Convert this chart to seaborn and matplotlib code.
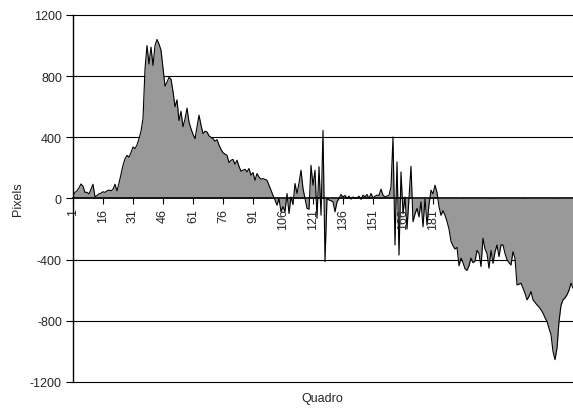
import numpy as np
import pandas as pd
import matplotlib
matplotlib.use("Agg")
import matplotlib.pyplot as plt
import seaborn as sns

# pixel difference per frame
pixels = [
    20, 40, 50, 70, 95, 80, 40, 40, 30, 60,
    93, 10, 20, 30, 35, 44, 40, 50, 55, 50,
    60, 93, 50, 100, 160, 217, 260, 282, 270, 300,
    337, 326, 350, 391, 440, 522, 848, 1000, 880, 990,
    870, 1000, 1040, 1010, 970, 850, 735, 760, 793, 780,
    700, 600, 645, 510, 570, 469, 520, 591, 500, 456,
    420, 391, 470, 545, 480, 424, 440, 435, 410, 400,
    391, 374, 385, 350, 320, 300, 290, 282, 235, 250,
    256, 224, 250, 210, 178, 185, 191, 174, 196, 152,
    170, 119, 163, 140, 126, 130, 125, 119, 87, 54,
    20, -10, -44, 0, -87, -54, -87, 33, -98, 10,
    -40, 98, 33, 100, 185, 65, 0, -65, -70, 217,
    87, 185, -130, 208, -109, 445, -413, 0, -10, -15,
    -22, -87, -22, 0, 26, 10, 20, 0, 15, -4,
    10, 0, 4, 15, -6, 22, 10, 26, 0, 33,
    4, 15, 22, 20, 61, 22, 10, 15, 22, 76,
    402, -304, 239, -370, 174, -100, 10, -200, 0, 210,
    -152, -100, -65, -120, -22, -185, 0, -174, -40, 54,
    30, 87, 40, -54, -110, -80, -110, -150, -200, -280,
    -310, -330, -320, -440, -390, -420, -460, -470, -440, -390,
    -420, -410, -340, -360, -445, -260, -330, -360, -456, -340,
    -424, -350, -304, -380, -304, -304, -360, -400, -420, -435,
    -348, -391, -565, -560, -554, -587, -620, -663, -640, -609,
    -663, -680, -696, -710, -728, -750, -780, -804, -850, -891,
    -1000, -1054, -978, -804, -700, -663, -650, -630, -600, -554,
    -587,
]
quadro = list(range(1, len(pixels) + 1))
x_ticks = [1, 16, 31, 46, 61, 76, 91, 106, 121, 136, 151, 166, 181, 196, 211, 226, 241]
y_ticks = [-1200, -800, -400, 0, 400, 800, 1200]

df = pd.DataFrame({"Quadro": quadro, "Pixels": pixels})

sns.set_style("white")
plt.rcParams["font.family"] = ["Liberation Sans", "DejaVu Sans"]

fig = plt.figure(figsize=(5.73, 4.10), dpi=100)
ax = fig.add_axes([0.1274, 0.0659, 0.8726, 0.8951])

# grid lines (Excel style, black)
for yv in y_ticks:
    if yv != 0:
        ax.axhline(yv, color="black", linewidth=0.8, zorder=1, clip_on=False)

ax.fill_between(df["Quadro"], df["Pixels"], 0, color="#999999", linewidth=0, zorder=2)
sns.lineplot(data=df, x="Quadro", y="Pixels", color="black", linewidth=0.8, ax=ax, zorder=3)

# category axis sits on the zero line (set before ticks, it resets them)
for s in ["top", "right"]:
    ax.spines[s].set_visible(False)
ax.spines["bottom"].set_position(("data", 0))
ax.spines["bottom"].set_linewidth(1.2)
ax.spines["bottom"].set_color("black")
ax.spines["bottom"].set_zorder(4)
ax.spines["left"].set_color("black")
ax.spines["left"].set_linewidth(1.0)

ax.set_xlim(1, len(pixels))
ax.set_ylim(-1200, 1200)
ax.set_yticks(y_ticks)
ax.set_yticklabels([str(v) for v in y_ticks], fontsize=9)
ax.set_xticks(x_ticks)
ax.set_xticklabels([str(v) for v in x_ticks], rotation=90, fontsize=9)

ax.tick_params(axis="y", direction="out", length=5, width=0.8, color="black", pad=3, left=True)
ax.tick_params(axis="x", direction="out", length=4, width=0.8, color="black", pad=3, bottom=True)

ax.set_xlabel("")
ax.set_ylabel("Pixels", fontsize=9, labelpad=4)
fig.text(0.562, 0.012, "Quadro", fontsize=9, ha="center", va="bottom")

fig.savefig("out.png", dpi=100)
